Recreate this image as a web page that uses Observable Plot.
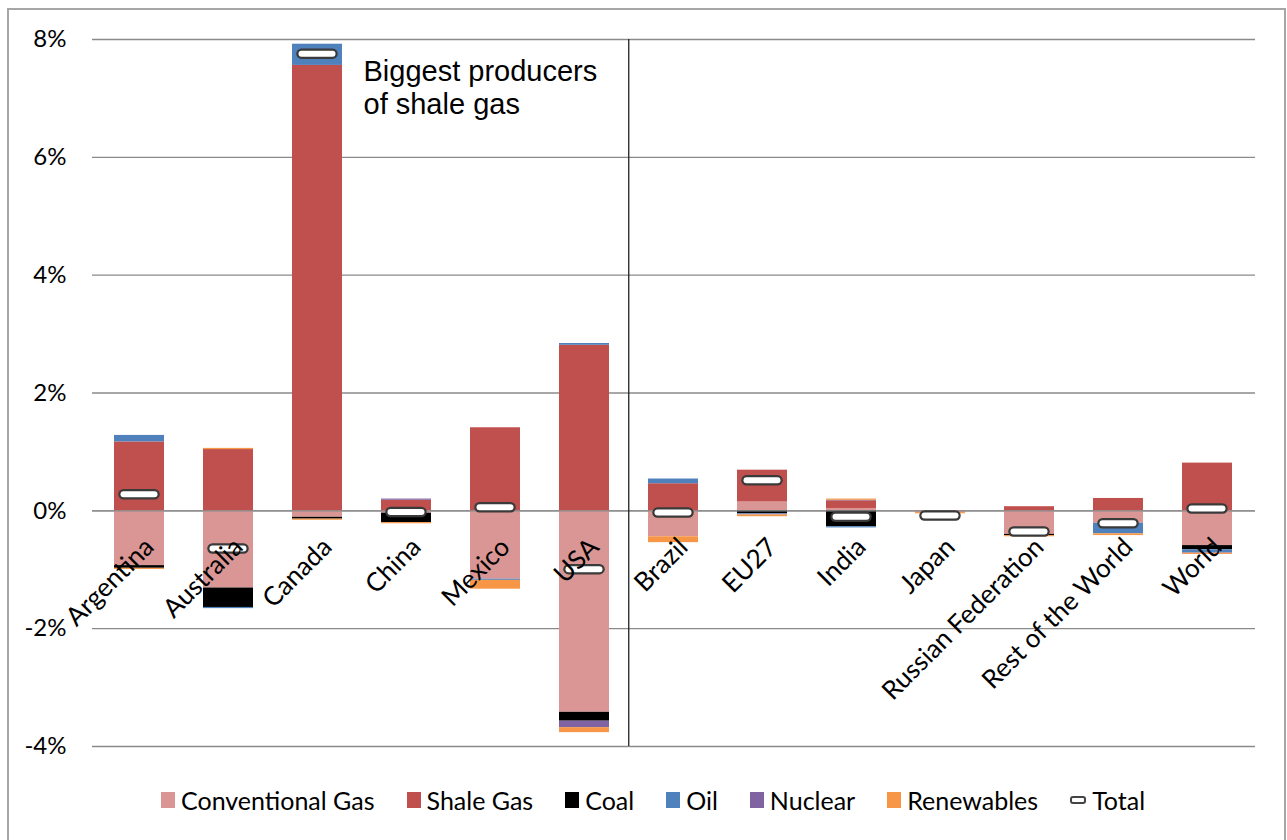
<!DOCTYPE html>
<html>
<head>
<meta charset="utf-8">
<script src="https://cdn.jsdelivr.net/npm/d3@7"></script>
<script src="https://cdn.jsdelivr.net/npm/@observablehq/plot@0.6"></script>
<style>
  body { margin: 0; background: #fff; }
  #wrap { position: relative; width: 1287px; height: 840px; overflow: hidden; background: #fff; }
  #frame { position: absolute; left: 7px; top: 8px; width: 1279px; height: 900px; border: 2px solid #a6a6a6; box-sizing: border-box; }
  #chart { position: absolute; left: 0; top: 0; }
  #legend { position: absolute; top: 785px; left: 161px; display: flex; align-items: center; gap: 32px;
            font-family: Lato, "Liberation Sans", sans-serif; font-size: 25px; color: #000; white-space: nowrap; }
  .item { display: flex; align-items: center; gap: 6px; }
  .sw { width: 14px; height: 16px; display: inline-block; }
  .tot { width: 12px; height: 4px; border: 2px solid #444; border-radius: 3px; background: #fff; display: inline-block; }
</style>
</head>
<body>
<div id="wrap">
  <div id="frame"></div>
  <div id="chart"></div>
  <div id="legend"></div>
</div>
<script>
// ---- data (percent change) ----
const categories = ["Argentina", "Australia", "Canada", "China", "Mexico", "USA", "Brazil", "EU27", "India", "Japan", "Russian Federation", "Rest of the World", "World"];
const seriesNames = ["Conventional Gas", "Shale Gas", "Coal", "Oil", "Nuclear", "Renewables"];
const seriesColors = ["#d99694", "#c0504d", "#000000", "#4f81bd", "#8064a2", "#f79646"];
const conventionalGas = [-0.93, -1.31, -0.11, -0.04, -1.16, -3.42, -0.44, 0.15, 0.04, -0.03, -0.40, -0.21, -0.59];
const shaleGas        = [1.17, 1.04, 7.56, 0.18, 1.41, 2.81, 0.46, 0.54, 0.13, 0, 0.07, 0.21, 0.81];
const coal            = [-0.045, -0.33, -0.03, -0.16, 0, -0.15, 0, -0.05, -0.27, 0, -0.02, 0, -0.07];
const oil             = [0.11, -0.02, 0.36, 0, -0.02, 0.03, 0.08, -0.01, -0.02, 0, 0, -0.18, -0.05];
const nuclear         = [0, 0, 0, 0.02, 0, -0.11, 0, -0.01, 0.01, 0, 0, 0, -0.01];
const renewables      = [-0.02, 0.02, -0.02, -0.02, -0.15, -0.085, -0.1, -0.03, 0.02, -0.02, -0.02, -0.03, -0.02];
const total           = [0.28, -0.64, 7.76, -0.02, 0.06, -0.99, -0.03, 0.52, -0.10, -0.08, -0.35, -0.21, 0.04];
const yTicks = [-4, -2, 0, 2, 4, 6, 8];
const annotation = ["Biggest producers", "of shale gas"];

const seriesValues = [conventionalGas, shaleGas, coal, oil, nuclear, renewables];
const rows = seriesNames.flatMap((s, i) => categories.map((c, j) => ({category: c, series: s, value: seriesValues[i][j]})));
const totals = categories.map((c, j) => ({category: c, total: total[j]}));

const chart = Plot.plot({
  width: 1287,
  height: 775,
  marginTop: 39,
  marginBottom: 29,
  marginLeft: 92,
  marginRight: 32,
  style: {fontFamily: "Lato, 'Liberation Sans', sans-serif", fontSize: "24px", color: "#000", background: "transparent", overflow: "visible"},
  x: {domain: categories, paddingInner: 0.435, paddingOuter: 0.2175, axis: null},
  y: {domain: [-4, 8], axis: null},
  color: {domain: seriesNames, range: seriesColors},
  marks: [
    Plot.ruleY(yTicks, {stroke: "#8a8a8a", strokeWidth: 1.3}),
    Plot.axisY(yTicks, {tickSize: 0, tickPadding: 26, tickFormat: d => d + "%", fontSize: 24}),
    Plot.barY(rows, {x: "category", y: "value", fill: "series", order: seriesNames}),
    Plot.ruleY([0], {stroke: "#8a8a8a", strokeWidth: 1.3}),
    Plot.ruleX(["Brazil"], {y1: -4, y2: 8, dx: -44.75, stroke: "#222", strokeWidth: 1.3}),
    Plot.tickY(totals, {x: "category", y: "total", stroke: "#3a3a3a", strokeWidth: 10.5, strokeLinecap: "round", insetLeft: 9.5, insetRight: 9.5}),
    Plot.tickY(totals, {x: "category", y: "total", stroke: "#ffffff", strokeWidth: 6, strokeLinecap: "round", insetLeft: 9.5, insetRight: 9.5}),
    Plot.text(categories, {x: d => d, y: () => 0, text: d => d, rotate: -45, textAnchor: "end", dx: 10, dy: 32, fontSize: 26}),
    Plot.text([annotation.join("\n")], {x: () => "China", y: () => 7.68, text: d => d, textAnchor: "start", lineAnchor: "top", dx: -43, fontSize: 29, lineHeight: 1.12, fontFamily: "'Liberation Sans', Arial, sans-serif"})
  ]
});
document.getElementById("chart").appendChild(chart);

// legend
const legend = document.getElementById("legend");
seriesNames.forEach((s, i) => {
  const it = document.createElement("span");
  it.className = "item";
  it.innerHTML = `<span class="sw" style="background:${seriesColors[i]}"></span><span>${s}</span>`;
  legend.appendChild(it);
});
const t = document.createElement("span");
t.className = "item";
t.innerHTML = `<span class="tot"></span><span>Total</span>`;
legend.appendChild(t);
</script>
</body>
</html>
